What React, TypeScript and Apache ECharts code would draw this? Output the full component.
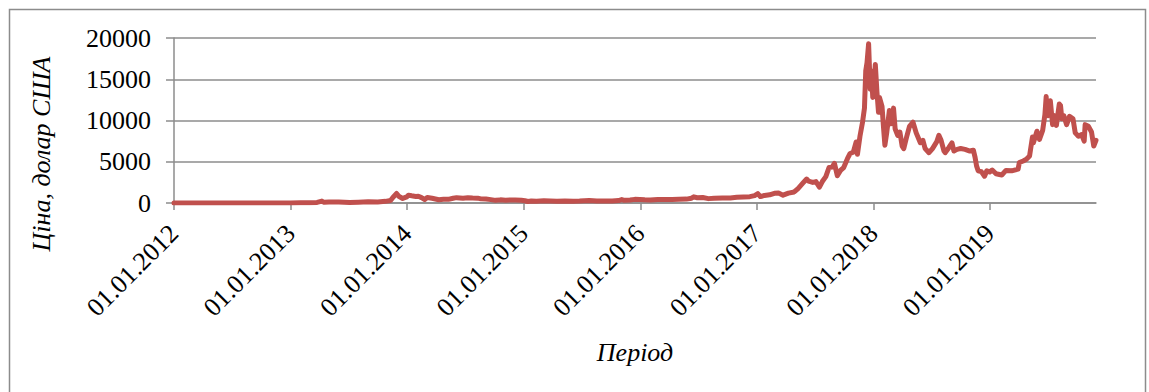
import React, { useEffect, useRef } from "react";
import * as echarts from "echarts";

// Bitcoin closing price, USD, sampled at turning points
const dates: string[] = [
  "2012-01-01", "2012-03-01", "2012-05-01", "2012-07-01", "2012-08-15", "2012-10-01", "2012-12-01",
  "2013-01-01", "2013-02-01", "2013-03-01", "2013-03-25", "2013-04-09", "2013-04-16", "2013-05-01",
  "2013-06-01", "2013-07-05", "2013-08-01", "2013-09-01", "2013-10-01", "2013-10-25", "2013-11-10",
  "2013-11-18", "2013-11-29", "2013-12-07", "2013-12-18", "2013-12-31",
  "2014-01-05", "2014-01-15", "2014-01-28", "2014-02-05", "2014-02-15", "2014-02-25", "2014-03-05",
  "2014-03-20", "2014-04-10", "2014-04-25", "2014-05-10", "2014-05-25", "2014-06-05", "2014-06-25",
  "2014-07-10", "2014-07-25", "2014-08-10", "2014-08-20", "2014-09-05", "2014-09-20", "2014-10-05",
  "2014-10-20", "2014-11-05", "2014-11-20", "2014-12-05", "2014-12-25",
  "2015-01-05", "2015-01-14", "2015-01-25", "2015-02-10", "2015-03-05", "2015-03-25", "2015-04-15",
  "2015-05-10", "2015-06-05", "2015-06-25", "2015-07-10", "2015-07-25", "2015-08-18", "2015-09-10",
  "2015-10-05", "2015-10-25", "2015-11-04", "2015-11-12", "2015-11-30", "2015-12-15", "2015-12-31",
  "2016-01-15", "2016-02-01", "2016-02-25", "2016-03-15", "2016-04-10", "2016-05-01", "2016-05-25",
  "2016-06-10", "2016-06-17", "2016-06-28", "2016-07-15", "2016-08-02", "2016-08-20", "2016-09-15",
  "2016-10-10", "2016-10-30", "2016-11-20", "2016-12-10", "2016-12-25",
  "2017-01-04", "2017-01-12", "2017-01-25", "2017-02-10", "2017-02-25", "2017-03-10", "2017-03-24",
  "2017-04-10", "2017-04-28", "2017-05-10", "2017-05-25", "2017-06-06", "2017-06-12", "2017-06-25",
  "2017-07-05", "2017-07-16", "2017-07-25", "2017-08-05", "2017-08-15", "2017-08-25", "2017-09-01",
  "2017-09-10", "2017-09-20", "2017-09-30", "2017-10-12", "2017-10-20", "2017-10-30", "2017-11-08",
  "2017-11-12", "2017-11-20", "2017-11-28", "2017-12-04", "2017-12-08", "2017-12-12", "2017-12-17",
  "2017-12-22", "2017-12-26", "2017-12-30",
  "2018-01-01", "2018-01-07", "2018-01-12", "2018-01-17", "2018-01-20", "2018-01-28", "2018-02-02",
  "2018-02-06", "2018-02-12", "2018-02-20", "2018-02-25", "2018-03-05", "2018-03-10", "2018-03-18",
  "2018-03-25", "2018-04-01", "2018-04-06", "2018-04-15", "2018-04-24", "2018-05-05", "2018-05-15",
  "2018-05-28", "2018-06-05", "2018-06-12", "2018-06-24", "2018-07-05", "2018-07-18", "2018-07-25",
  "2018-08-01", "2018-08-10", "2018-08-14", "2018-08-25", "2018-09-04", "2018-09-10", "2018-09-20",
  "2018-10-01", "2018-10-15", "2018-10-30", "2018-11-10", "2018-11-15", "2018-11-20", "2018-11-25",
  "2018-12-05", "2018-12-15", "2018-12-22", "2018-12-31",
  "2019-01-08", "2019-01-20", "2019-02-07", "2019-02-20", "2019-03-10", "2019-03-30", "2019-04-03",
  "2019-04-15", "2019-04-25", "2019-05-05", "2019-05-14", "2019-05-17", "2019-05-28", "2019-06-05",
  "2019-06-15", "2019-06-22", "2019-06-26", "2019-06-28", "2019-07-02", "2019-07-09", "2019-07-16",
  "2019-07-20", "2019-07-28", "2019-08-06", "2019-08-10", "2019-08-14", "2019-08-20", "2019-08-29",
  "2019-09-07", "2019-09-18", "2019-09-25", "2019-10-05", "2019-10-15", "2019-10-23", "2019-10-26",
  "2019-11-05", "2019-11-15", "2019-11-22", "2019-11-29",
];

const prices: number[] = [
  5.3, 4.9, 5.0, 6.7, 12, 12.4, 12.6,
  13.5, 20, 34, 75, 230, 80, 120,
  125, 70, 100, 140, 130, 200, 300,
  700, 1150, 780, 550, 740,
  950, 870, 800, 820, 650, 430, 670,
  580, 400, 450, 440, 580, 650, 590,
  630, 600, 590, 500, 480, 410, 320,
  380, 340, 375, 370, 320,
  275, 180, 250, 220, 275, 250, 220,
  240, 225, 245, 285, 290, 230, 240,
  240, 290, 420, 320, 370, 440, 430,
  380, 375, 425, 415, 420, 450, 470,
  580, 750, 640, 665, 530, 580, 610,
  615, 700, 730, 770, 900,
  1130, 780, 920, 990, 1180, 1200, 950,
  1200, 1340, 1750, 2400, 2900, 2650, 2500,
  2600, 1930, 2600, 3200, 4300, 4350, 4800,
  3300, 3950, 4300, 5400, 6000, 6150, 7400,
  5900, 8100, 9800, 11500, 16000, 17000, 19300,
  13800, 16000, 12800,
  13500, 16800, 13500, 11000, 12800, 11700, 9000,
  7000, 8600, 11200, 9600, 11500, 9000, 8200,
  8600, 6900, 6600, 8000, 9300, 9800, 8500,
  7300, 7600, 6600, 6100, 6600, 7400, 8200,
  7600, 6300, 6100, 6700, 7300, 6300, 6500,
  6600, 6500, 6300, 6400, 5600, 4500, 3900,
  3800, 3250, 3900, 3750,
  4000, 3550, 3400, 3950, 3900, 4100, 4900,
  5100, 5300, 5700, 8000, 7300, 8700, 7700,
  8800, 10700, 12900, 11000, 10600, 12400, 9500,
  10600, 9400, 12000, 11800, 10200, 10600, 9500,
  10500, 10200, 8500, 8100, 8300, 7500, 9500,
  9300, 8600, 6900, 7600,
];

const yearTicks: number[] = [0, 1, 2, 3, 4, 5, 6, 7];
const firstYear = 2012;
const endDate = "2019-11-29";

// Position of a calendar date along the axis, in years since 01.01.2012
function yearPos(iso: string): number {
  const [y, m, d] = iso.split("-").map(Number);
  const start = Date.UTC(y, 0, 1);
  const next = Date.UTC(y + 1, 0, 1);
  const t = Date.UTC(y, m - 1, d);
  return y - firstYear + (t - start) / (next - start);
}

const FONT = "'Liberation Serif', 'Times New Roman', serif";
const GRID_GRAY = "#8c8c8c";

export default function App() {
  const ref = useRef<HTMLDivElement>(null);

  useEffect(() => {
    if (!ref.current) return;
    const chart = echarts.init(ref.current, undefined, { renderer: "svg" });
    const seriesData = dates.map((d, i) => [yearPos(d), prices[i]]);

    chart.setOption({
      animation: false,
      backgroundColor: "#ffffff",
      grid: { left: 174, top: 38, right: 53, bottom: 189 },
      xAxis: {
        type: "value",
        min: 0,
        max: yearPos(endDate),
        axisLine: { show: true, lineStyle: { color: GRID_GRAY, width: 1.5 } },
        axisTick: {
          show: true,
          length: 7,
          customValues: yearTicks,
          lineStyle: { color: GRID_GRAY, width: 1.5 },
        },
        axisLabel: {
          customValues: yearTicks,
          rotate: 45,
          margin: 26,
          color: "#000",
          fontFamily: FONT,
          fontSize: 26,
          formatter: (v: number) => `01.01.${firstYear + Math.round(v)}`,
        },
        splitLine: { show: false },
      },
      yAxis: {
        type: "value",
        min: 0,
        max: 20000,
        interval: 5000,
        axisLine: { show: true, lineStyle: { color: GRID_GRAY, width: 1.5 } },
        axisTick: { show: true, length: 8, lineStyle: { color: GRID_GRAY, width: 1.5 } },
        axisLabel: {
          margin: 23,
          color: "#000",
          fontFamily: FONT,
          fontSize: 26,
          formatter: (v: number) => String(v),
        },
        splitLine: { show: true, lineStyle: { color: GRID_GRAY, width: 1.5 } },
      },
      series: [
        {
          type: "line",
          data: seriesData,
          showSymbol: false,
          symbol: "none",
          lineStyle: { color: "#C0504D", width: 5, cap: "round", join: "round" },
          z: 3,
        },
      ],
      graphic: [
        {
          type: "rect",
          shape: { x: 9.5, y: 9.5, width: 1136, height: 420 },
          style: { fill: "none", stroke: GRID_GRAY, lineWidth: 1.5 },
          silent: true,
        },
        {
          type: "text",
          x: 41,
          y: 154,
          rotation: Math.PI / 2,
          style: {
            text: "Ціна, долар США",
            font: `italic 26px ${FONT}`,
            fill: "#000",
            textAlign: "center",
            textVerticalAlign: "middle",
          },
        },
        {
          type: "text",
          x: 635,
          y: 352,
          style: {
            text: "Період",
            font: `italic 26px ${FONT}`,
            fill: "#000",
            textAlign: "center",
            textVerticalAlign: "middle",
          },
        },
      ],
    });

    return () => chart.dispose();
  }, []);

  return (
    <div
      ref={ref}
      style={{ position: "fixed", left: 0, top: 0, width: 1149, height: 392, background: "#fff" }}
    />
  );
}
